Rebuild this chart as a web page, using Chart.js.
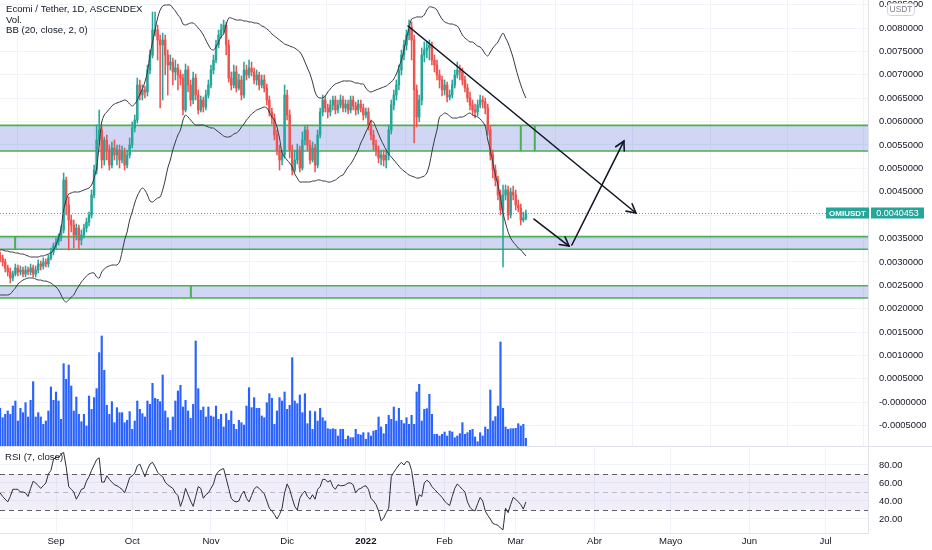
<!DOCTYPE html>
<html><head><meta charset="utf-8">
<script src="https://cdn.jsdelivr.net/npm/chart.js@4.4.1/dist/chart.umd.min.js"></script>
<style>
html,body{margin:0;padding:0;background:#fff;overflow:hidden}
#wrap{position:relative;width:932px;height:550px;background:#fff}
canvas{position:absolute;left:0}
#c1{top:0;width:932px;height:447px}
#c2{top:447px;width:932px;height:103px}
</style></head><body>
<div id="wrap"><canvas id="c1" width="932" height="447"></canvas><canvas id="c2" width="932" height="103"></canvas></div>
<script>
// ---- data (day 0 = 2021-09-01, first candle = 2021-08-10) ----
const FIRST_DAY = -22;
const opens = [0.003148,0.003084,0.002998,0.002870,0.002784,0.002656,0.002742,0.002870,0.002784,0.002827,
0.002742,0.002827,0.002784,0.002870,0.002742,0.002827,0.002955,0.002913,0.002998,0.002955,
0.003084,0.003212,0.003340,0.003426,0.003511,0.003682,0.004751,0.004217,0.003896,0.003789,
0.003575,0.003725,0.003469,0.003575,0.003725,0.003853,0.004003,0.004431,0.004965,0.005607,
0.005820,0.005179,0.005607,0.005393,0.005072,0.005436,0.005286,0.005393,0.005179,0.005350,
0.005072,0.005286,0.005500,0.005863,0.006034,0.006783,0.006569,0.006676,0.006633,0.007103,
0.007424,0.007959,0.007959,0.007745,0.007638,0.007745,0.007424,0.007210,0.007274,0.007061,
0.007146,0.006996,0.006932,0.006248,0.007103,0.006783,0.006462,0.006932,0.006569,0.006248,
0.006462,0.006312,0.006569,0.006783,0.007103,0.007317,0.007638,0.007852,0.007959,0.008065,
0.007638,0.006932,0.006783,0.007061,0.006718,0.006890,0.006569,0.007103,0.006996,0.007146,
0.007061,0.006890,0.006996,0.006783,0.006890,0.006718,0.006462,0.006205,0.006077,0.005714,
0.005393,0.005179,0.005286,0.006569,0.006141,0.005393,0.004965,0.005179,0.005393,0.005008,
0.005607,0.005820,0.005500,0.005179,0.005436,0.005072,0.005714,0.006205,0.006462,0.006291,
0.006205,0.006355,0.006462,0.006248,0.006355,0.006462,0.006291,0.006376,0.006248,0.006462,
0.006334,0.006248,0.006376,0.006291,0.006141,0.006205,0.005927,0.005714,0.005500,0.005393,
0.005222,0.005286,0.005179,0.005286,0.005820,0.006355,0.006569,0.006783,0.007103,0.007424,
0.007638,0.007852,0.008023,0.007745,0.006676,0.006098,0.006462,0.007424,0.007531,0.007574,
0.007638,0.007317,0.007210,0.006996,0.006890,0.006676,0.006783,0.006526,0.006569,0.006783,
0.006996,0.007103,0.007061,0.006890,0.006718,0.006505,0.006355,0.006248,0.006205,0.006355,
0.006462,0.006419,0.006291,0.005820,0.005286,0.004965,0.004751,0.004431,0.004110,0.004431,
0.004538,0.004003,0.004495,0.004431,0.004217,0.004153,0.003896,0.003939];
const highs = [0.003212,0.003148,0.003062,0.002934,0.002870,0.002806,0.002955,0.002934,0.002913,0.002891,
0.002913,0.002891,0.002955,0.002934,0.002913,0.003041,0.003020,0.003084,0.003062,0.003148,
0.003298,0.003404,0.003511,0.003597,0.003768,0.004901,0.004816,0.004388,0.004003,0.003896,
0.003811,0.003789,0.003682,0.003811,0.003939,0.004067,0.004538,0.005072,0.005927,0.006248,
0.005885,0.005671,0.005714,0.005500,0.005564,0.005607,0.005500,0.005500,0.005478,0.005436,
0.005393,0.005649,0.005992,0.006141,0.006932,0.006890,0.006783,0.006761,0.007210,0.007531,
0.008343,0.008343,0.008065,0.007852,0.007894,0.007852,0.007531,0.007424,0.007360,0.007317,
0.007232,0.007103,0.007018,0.007232,0.007189,0.006890,0.007061,0.007018,0.006676,0.006547,
0.006526,0.006676,0.006890,0.007210,0.007424,0.007745,0.007959,0.008087,0.008172,0.008130,
0.007745,0.007061,0.007210,0.007189,0.007018,0.006975,0.007274,0.007210,0.007317,0.007274,
0.007146,0.007103,0.007061,0.006996,0.006996,0.006804,0.006547,0.006291,0.006163,0.005820,
0.005500,0.005393,0.006783,0.006676,0.006248,0.005500,0.005393,0.005521,0.005478,0.005778,
0.005906,0.005927,0.005607,0.005564,0.005521,0.005820,0.006291,0.006569,0.006547,0.006376,
0.006462,0.006547,0.006547,0.006462,0.006569,0.006547,0.006462,0.006462,0.006547,0.006547,
0.006419,0.006462,0.006462,0.006376,0.006291,0.006291,0.006034,0.005820,0.005607,0.005478,
0.005393,0.005393,0.005393,0.005927,0.006462,0.006676,0.006890,0.007210,0.007531,0.007745,
0.007959,0.008172,0.008130,0.007852,0.006783,0.006569,0.007574,0.007702,0.007702,0.007745,
0.007702,0.007424,0.007317,0.007103,0.006975,0.006890,0.006847,0.006676,0.006890,0.007103,
0.007274,0.007210,0.007146,0.006975,0.006804,0.006633,0.006462,0.006376,0.006462,0.006569,
0.006547,0.006505,0.006376,0.005906,0.005393,0.005072,0.004837,0.004538,0.004645,0.004645,
0.004623,0.004580,0.004623,0.004538,0.004324,0.004238,0.004067,0.004110];
const lows = [0.002998,0.002913,0.002784,0.002699,0.002549,0.002592,0.002699,0.002699,0.002720,0.002678,
0.002678,0.002720,0.002720,0.002678,0.002678,0.002763,0.002827,0.002849,0.002891,0.002891,
0.003041,0.003148,0.003276,0.003362,0.003447,0.003618,0.004003,0.003255,0.003640,0.003298,
0.003469,0.003276,0.003362,0.003511,0.003640,0.003768,0.003939,0.004367,0.004880,0.005500,
0.005008,0.005072,0.005179,0.004965,0.005008,0.005179,0.005072,0.005008,0.005115,0.004965,
0.005008,0.005222,0.005436,0.005778,0.005970,0.006462,0.006462,0.006505,0.006547,0.007018,
0.007360,0.007830,0.007317,0.006291,0.006462,0.006996,0.006569,0.007103,0.006783,0.006890,
0.006676,0.006783,0.006141,0.006205,0.006633,0.006334,0.006376,0.006462,0.006163,0.006205,
0.006205,0.006248,0.006505,0.006718,0.007018,0.007253,0.007574,0.007788,0.007894,0.007424,
0.006847,0.006676,0.006718,0.006633,0.006676,0.006462,0.006505,0.006890,0.006932,0.006975,
0.006804,0.006783,0.006676,0.006718,0.006633,0.006355,0.006120,0.005949,0.005607,0.005286,
0.004965,0.005072,0.005222,0.006034,0.005222,0.004858,0.004923,0.005094,0.004923,0.004965,
0.005500,0.005393,0.005094,0.005136,0.004923,0.005008,0.005649,0.006120,0.006205,0.006077,
0.006120,0.006248,0.006163,0.006184,0.006291,0.006205,0.006205,0.006163,0.006184,0.006248,
0.006141,0.006163,0.006205,0.006034,0.006077,0.005820,0.005607,0.005393,0.005265,0.005115,
0.005072,0.005051,0.005008,0.005179,0.005735,0.006248,0.006462,0.006676,0.006996,0.007317,
0.007531,0.007745,0.007317,0.005543,0.005885,0.005992,0.006355,0.007274,0.007360,0.007317,
0.007210,0.007061,0.006890,0.006718,0.006547,0.006569,0.006419,0.006462,0.006505,0.006718,
0.006932,0.006890,0.006783,0.006633,0.006419,0.006248,0.006141,0.006077,0.006120,0.006291,
0.006291,0.006163,0.005714,0.005179,0.004794,0.004623,0.004324,0.004003,0.002891,0.004324,
0.003896,0.003939,0.004324,0.004110,0.004067,0.003789,0.003853,0.003896];
const closes = [0.003084,0.002998,0.002870,0.002784,0.002656,0.002742,0.002870,0.002784,0.002827,0.002742,
0.002827,0.002784,0.002870,0.002742,0.002827,0.002955,0.002913,0.002998,0.002955,0.003084,
0.003212,0.003340,0.003426,0.003511,0.003682,0.004751,0.004217,0.003896,0.003789,0.003575,
0.003725,0.003469,0.003575,0.003725,0.003853,0.004003,0.004431,0.004965,0.005607,0.005820,
0.005179,0.005607,0.005393,0.005072,0.005436,0.005286,0.005393,0.005179,0.005350,0.005072,
0.005286,0.005500,0.005863,0.006034,0.006783,0.006569,0.006676,0.006633,0.007103,0.007424,
0.007959,0.007959,0.007745,0.007638,0.007745,0.007424,0.007210,0.007274,0.007061,0.007146,
0.006996,0.006932,0.006248,0.007103,0.006783,0.006462,0.006932,0.006569,0.006248,0.006462,
0.006312,0.006569,0.006783,0.007103,0.007317,0.007638,0.007852,0.007959,0.008065,0.007638,
0.006932,0.006783,0.007061,0.006718,0.006890,0.006569,0.007103,0.006996,0.007146,0.007061,
0.006890,0.006996,0.006783,0.006890,0.006718,0.006462,0.006205,0.006077,0.005714,0.005393,
0.005179,0.005286,0.006569,0.006141,0.005393,0.004965,0.005179,0.005393,0.005008,0.005607,
0.005820,0.005500,0.005179,0.005436,0.005072,0.005714,0.006205,0.006462,0.006291,0.006205,
0.006355,0.006462,0.006248,0.006355,0.006462,0.006291,0.006376,0.006248,0.006462,0.006334,
0.006248,0.006376,0.006291,0.006141,0.006205,0.005927,0.005714,0.005500,0.005393,0.005222,
0.005286,0.005179,0.005286,0.005820,0.006355,0.006569,0.006783,0.007103,0.007424,0.007638,
0.007852,0.008023,0.007745,0.006676,0.006098,0.006462,0.007424,0.007531,0.007574,0.007638,
0.007317,0.007210,0.006996,0.006890,0.006676,0.006783,0.006526,0.006569,0.006783,0.006996,
0.007103,0.007061,0.006890,0.006718,0.006505,0.006355,0.006248,0.006205,0.006355,0.006462,
0.006419,0.006291,0.005820,0.005286,0.004965,0.004751,0.004431,0.004110,0.004431,0.004538,
0.004003,0.004495,0.004431,0.004217,0.004153,0.003896,0.003939,0.0040453];
const volumes = [116,88,98,108,98,123,138,78,116,103,
133,90,140,196,90,103,90,68,78,108,
180,140,165,138,83,250,203,246,183,108,
150,98,76,98,63,153,113,148,175,283,
333,230,125,98,136,73,118,103,103,73,
80,106,53,78,138,113,100,90,138,128,
191,146,143,136,216,108,88,50,90,138,
168,185,120,140,108,86,128,318,175,110,
120,90,120,93,90,123,83,98,60,100,
80,108,68,53,80,73,66,123,178,118,
148,116,116,93,88,133,160,146,68,108,
148,138,165,113,125,268,138,130,156,103,
160,70,108,53,106,78,116,88,78,55,
53,55,53,33,53,53,23,33,28,28,
53,38,36,43,23,43,33,48,50,90,
60,40,68,95,83,120,78,116,80,70,
88,68,95,68,165,188,78,113,115,158,
98,38,38,33,38,45,33,48,45,28,
33,40,73,38,43,50,53,30,16,43,
33,60,53,171,78,91,123,315,116,60,
53,55,55,56,70,63,68,26];
const bbUpper = [0.003255,0.003255,0.003233,0.003233,0.003212,0.003212,0.003191,0.003191,0.003169,0.003169,
0.003148,0.003127,0.003105,0.003105,0.003105,0.003105,0.003127,0.003127,0.003148,0.003169,
0.003191,0.003255,0.003362,0.003511,0.003725,0.004110,0.004324,0.004452,0.004474,0.004495,
0.004495,0.004495,0.004516,0.004538,0.004559,0.004580,0.004645,0.004794,0.005008,0.005500,
0.005992,0.006141,0.006205,0.006269,0.006334,0.006376,0.006398,0.006419,0.006440,0.006462,
0.006440,0.006376,0.006334,0.006376,0.006462,0.006590,0.006697,0.006847,0.007061,0.007424,
0.007702,0.007959,0.008215,0.008386,0.008472,0.008493,0.008493,0.008493,0.008429,0.008365,
0.008279,0.008215,0.008087,0.008065,0.008087,0.008108,0.008108,0.008065,0.008001,0.007937,
0.007852,0.007745,0.007638,0.007552,0.007531,0.007595,0.007702,0.007809,0.007873,0.008065,
0.008215,0.008215,0.008194,0.008172,0.008172,0.008172,0.008151,0.008151,0.008130,0.008130,
0.008108,0.008108,0.008087,0.008044,0.008023,0.007980,0.007937,0.007873,0.007830,0.007788,
0.007745,0.007702,0.007659,0.007638,0.007616,0.007595,0.007574,0.007531,0.007488,0.007403,
0.007274,0.007146,0.007018,0.006847,0.006633,0.006526,0.006505,0.006505,0.006547,0.006633,
0.006697,0.006761,0.006804,0.006825,0.006847,0.006868,0.006868,0.006868,0.006868,0.006847,
0.006825,0.006825,0.006804,0.006804,0.006718,0.006654,0.006633,0.006654,0.006676,0.006697,
0.006718,0.006740,0.006761,0.006804,0.006847,0.006911,0.007018,0.007167,0.007317,0.007531,
0.007788,0.008001,0.008194,0.008215,0.008237,0.008237,0.008237,0.008279,0.008386,0.008450,
0.008450,0.008429,0.008386,0.008279,0.008194,0.008130,0.008108,0.008087,0.008087,0.008065,
0.008044,0.007959,0.007852,0.007788,0.007745,0.007702,0.007702,0.007659,0.007616,0.007595,
0.007531,0.007445,0.007403,0.007488,0.007574,0.007638,0.007702,0.007809,0.007894,0.007788,
0.007681,0.007531,0.007360,0.007146,0.006954,0.006783,0.006633,0.006505];
const bbLower = [0.002293,0.002293,0.002293,0.002293,0.002314,0.002378,0.002442,0.002528,0.002571,0.002613,
0.002635,0.002656,0.002656,0.002656,0.002635,0.002613,0.002613,0.002592,0.002592,0.002571,
0.002549,0.002506,0.002464,0.002400,0.002293,0.002186,0.002143,0.002186,0.002250,0.002293,
0.002400,0.002485,0.002571,0.002635,0.002699,0.002742,0.002763,0.002763,0.002678,0.002656,
0.002784,0.002849,0.002891,0.002913,0.002934,0.002934,0.002934,0.002998,0.003212,0.003469,
0.003640,0.003896,0.004067,0.004260,0.004409,0.004516,0.004580,0.004538,0.004431,0.004303,
0.004281,0.004324,0.004367,0.004388,0.004538,0.004751,0.005008,0.005179,0.005393,0.005564,
0.005714,0.005820,0.006034,0.006141,0.006098,0.006034,0.005970,0.005927,0.005927,0.005927,
0.005927,0.005906,0.005885,0.005863,0.005863,0.005820,0.005778,0.005735,0.005692,0.005671,
0.005671,0.005692,0.005735,0.005756,0.005799,0.005885,0.005949,0.006034,0.006098,0.006163,
0.006205,0.006248,0.006269,0.006291,0.006312,0.006291,0.006205,0.006098,0.006034,0.005885,
0.005649,0.005329,0.005243,0.005179,0.005115,0.005029,0.004880,0.004794,0.004709,0.004709,
0.004709,0.004709,0.004709,0.004730,0.004730,0.004751,0.004751,0.004730,0.004730,0.004709,
0.004709,0.004730,0.004751,0.004794,0.004837,0.004858,0.004944,0.005029,0.005094,0.005179,
0.005286,0.005393,0.005543,0.005649,0.005778,0.005885,0.006013,0.005992,0.005863,0.005735,
0.005607,0.005500,0.005393,0.005307,0.005243,0.005179,0.005115,0.005051,0.004987,0.004944,
0.004901,0.004858,0.004837,0.004816,0.004794,0.004794,0.004816,0.004837,0.004901,0.005072,
0.005350,0.005607,0.005820,0.006098,0.006141,0.006184,0.006163,0.006120,0.006077,0.006077,
0.006077,0.006098,0.006098,0.006120,0.006163,0.006184,0.006141,0.006120,0.006098,0.006056,
0.005992,0.005906,0.005607,0.005393,0.005115,0.004858,0.004645,0.004367,0.004046,0.003832,
0.003640,0.003511,0.003426,0.003362,0.003298,0.003255,0.003191,0.003127];
const rsi7 = [49,45,42,39,45,53,53,53,50,50,
49,45,54,62,60,57,54,57,60,70,
74,86,89,88,92,94,78,56,53,50,
42,47,53,54,62,67,74,80,86,88,
61,61,68,64,61,58,57,55,53,49,
57,66,68,71,79,81,74,67,75,81,
83,78,72,69,67,61,58,56,54,49,
46,34,42,54,47,40,34,45,56,54,
43,47,49,54,59,69,73,75,76,65,
54,43,40,39,40,47,51,43,39,46,
53,56,54,51,48,40,32,29,25,20,
25,32,49,59,53,43,34,30,43,48,
51,45,42,47,42,53,56,64,64,61,
63,56,53,58,57,57,58,60,60,58,
49,53,54,56,57,53,43,40,36,29,
18,21,27,32,67,72,76,80,83,80,
84,83,74,55,35,47,45,60,63,61,
56,53,50,47,44,40,37,35,45,54,
59,56,53,50,39,33,30,29,37,44,
40,29,24,20,15,14,13,10,8,32,
27,36,44,42,39,36,31,39];
const monthDays = [0,30,61,91,122,153,181,212,242,273,303];
const monthLabels = ['Sep','Oct','Nov','Dic','2022','Feb','Mar','Abr','Mayo','Jun','Jul'];
const priceTicks = [-0.0005,0,0.0005,0.001,0.0015,0.002,0.0025,0.003,0.0035,0.004,0.0045,0.005,0.0055,0.006,0.0065,0.007,0.0075,0.008,0.0085];
const rsiTicks = [20,40,60,80];
const rsiLevels = [70,50,30];
const zoneTops = [0.00592,0.00354,0.00249];
const zoneBottoms = [0.00537,0.00327,0.00223];
const zoneEdgeDays = [[183,188.5],[-16.1],[53.1]];
const drawnStartDay = [138.6,188.2,203.1];
const drawnStartPrice = [0.008044,0.003917,0.003362];
const drawnEndDay = [228.3,202.0,223.6];
const drawnEndPrice = [0.004046,0.003340,0.005585];
const lastPrice = 0.0040453;
const symbolName = 'OMIUSDT';

// ---- style ----
const FONT = "'Liberation Sans', Arial, sans-serif";
const TEXT = '#131722';
const GRID = '#f0f3fa';
const BORDER = '#e0e3eb';
const UP = '#26a69a', DOWN = '#ef5350';
const X_MIN = -22.05, X_MAX = 319.7;
const PRICE_MAX = 0.0086, PRICE_MIN = -0.000957;
const VOL_MAX = 1341;
const AXIS_W = 64;

const days = closes.map((_, i) => FIRST_DAY + i);
const candleColor = closes.map((c, i) => c >= opens[i] ? UP : DOWN);

function fmtPrice(v){ return Math.abs(v) < 1e-12 ? '-0.0000000' : v.toFixed(7); }
function monthLabel(v){ const k = monthDays.indexOf(v); return k >= 0 ? monthLabels[k] : ''; }
function noPad(s){ s.paddingTop = 0; s.paddingBottom = 0; s.paddingLeft = 0; s.paddingRight = 0; }

function arrowHead(ctx, x1, y1, x2, y2, len){
  const a = Math.atan2(y2 - y1, x2 - x1);
  ctx.beginPath();
  ctx.moveTo(x2 - len*Math.cos(a - 0.5), y2 - len*Math.sin(a - 0.5));
  ctx.lineTo(x2, y2);
  ctx.lineTo(x2 - len*Math.cos(a + 0.5), y2 - len*Math.sin(a + 0.5));
  ctx.stroke();
}

const pricePanePlugin = {
  id: 'pricePane',
  beforeDatasetsDraw(chart){
    const {ctx, chartArea: a, scales: {x, y}} = chart;
    ctx.save();
    ctx.beginPath(); ctx.rect(a.left, a.top, a.width, a.height); ctx.clip();
    for (let i = 0; i < zoneTops.length; i++){
      const yt = y.getPixelForValue(zoneTops[i]), yb = y.getPixelForValue(zoneBottoms[i]);
      ctx.fillStyle = 'rgba(100,120,220,0.30)';
      ctx.fillRect(a.left, yt, a.width, yb - yt);
      ctx.strokeStyle = '#4caf50'; ctx.lineWidth = 1.6;
      ctx.beginPath(); ctx.moveTo(a.left, yt); ctx.lineTo(a.right, yt);
      ctx.moveTo(a.left, yb); ctx.lineTo(a.right, yb); ctx.stroke();
      zoneEdgeDays[i].forEach(d => {
        const xe = x.getPixelForValue(d);
        ctx.lineWidth = 2;
        ctx.beginPath(); ctx.moveTo(xe, yt); ctx.lineTo(xe, yb); ctx.stroke();
      });
    }
    ctx.restore();
  },
  afterDatasetsDraw(chart){
    const {ctx, chartArea: a, scales: {x, y}} = chart;
    ctx.save();
    const yp = y.getPixelForValue(lastPrice);
    ctx.strokeStyle = 'rgba(38,166,154,0.9)'; ctx.lineWidth = 1; ctx.setLineDash([1,2]);
    ctx.beginPath(); ctx.moveTo(a.left, Math.round(yp)+0.5); ctx.lineTo(826, Math.round(yp)+0.5); ctx.stroke();
    ctx.setLineDash([]);
    ctx.strokeStyle = '#131722'; ctx.lineWidth = 1.6; ctx.lineCap = 'round';
    for (let i = 0; i < drawnStartDay.length; i++){
      const x1 = x.getPixelForValue(drawnStartDay[i]), y1 = y.getPixelForValue(drawnStartPrice[i]);
      const x2 = x.getPixelForValue(drawnEndDay[i]), y2 = y.getPixelForValue(drawnEndPrice[i]);
      ctx.beginPath(); ctx.moveTo(x1, y1); ctx.lineTo(x2, y2); ctx.stroke();
      arrowHead(ctx, x1, y1, x2, y2, 10);
    }
    ctx.restore();
  },
  afterDraw(chart){
    const {ctx, scales: {y}} = chart;
    ctx.save();
    ctx.fillStyle = TEXT; ctx.textBaseline = 'middle'; ctx.textAlign = 'left';
    ctx.font = '500 9.6px ' + FONT;
    ctx.fillText('Ecomi / Tether, 1D, ASCENDEX', 6, 9.5);
    ctx.font = '9.6px ' + FONT;
    ctx.fillText('Vol.', 6, 20);
    ctx.fillText('BB (20, close, 2, 0)', 6, 30);
    const yp = Math.round(y.getPixelForValue(lastPrice));
    ctx.fillStyle = UP;
    ctx.fillRect(826, yp - 5.5, 43, 11);
    ctx.fillRect(871, yp - 5.5, 53, 11);
    ctx.fillStyle = '#ffffff'; ctx.font = 'bold 8px ' + FONT; ctx.textAlign = 'center';
    ctx.fillText(symbolName, 847.5, yp + 0.5);
    ctx.font = '9px ' + FONT;
    ctx.fillText(lastPrice.toFixed(7), 897.5, yp + 0.5);
    ctx.fillStyle = '#ffffff'; ctx.strokeStyle = '#d1d4dc'; ctx.lineWidth = 1;
    ctx.beginPath();
    if (ctx.roundRect) ctx.roundRect(887.5, 3.5, 27, 12, 3); else ctx.rect(887.5, 3.5, 27, 12);
    ctx.fill(); ctx.stroke();
    ctx.fillStyle = '#787b86'; ctx.font = '8.4px ' + FONT;
    ctx.fillText('USDT', 901, 10);
    ctx.strokeStyle = BORDER; ctx.lineWidth = 1;
    ctx.beginPath(); ctx.moveTo(0, 446.5); ctx.lineTo(932, 446.5); ctx.stroke();
    ctx.restore();
  }
};

const rsiPanePlugin = {
  id: 'rsiPane',
  beforeDatasetsDraw(chart){
    const {ctx, chartArea: a, scales: {y}} = chart;
    ctx.save();
    const y70 = y.getPixelForValue(rsiLevels[0]), y50 = y.getPixelForValue(rsiLevels[1]), y30 = y.getPixelForValue(rsiLevels[2]);
    ctx.fillStyle = 'rgba(126,87,194,0.10)';
    ctx.fillRect(a.left, y70, a.width, y30 - y70);
    ctx.lineWidth = 1; ctx.setLineDash([5,4]);
    ctx.strokeStyle = '#5d606b';
    ctx.beginPath(); ctx.moveTo(a.left, Math.round(y70)+0.5); ctx.lineTo(a.right, Math.round(y70)+0.5);
    ctx.moveTo(a.left, Math.round(y30)+0.5); ctx.lineTo(a.right, Math.round(y30)+0.5); ctx.stroke();
    ctx.strokeStyle = 'rgba(120,123,134,0.45)';
    ctx.beginPath(); ctx.moveTo(a.left, Math.round(y50)+0.5); ctx.lineTo(a.right, Math.round(y50)+0.5); ctx.stroke();
    ctx.restore();
  },
  afterDraw(chart){
    const {ctx} = chart;
    ctx.save();
    ctx.fillStyle = TEXT; ctx.font = '9.6px ' + FONT; ctx.textBaseline = 'middle'; ctx.textAlign = 'left';
    ctx.fillText('RSI (7, close)', 5, 10.5);
    ctx.restore();
  }
};

const xCommon = {
  type: 'linear', min: X_MIN, max: X_MAX, offset: false,
  grid: { color: GRID, drawTicks: false, lineWidth: 1 },
  afterBuildTicks: s => { s.ticks = monthDays.map(v => ({ value: v })); }
};

new Chart(document.getElementById('c1'), {
  type: 'bar',
  data: {
    datasets: [
      { type: 'line', label: 'BB upper', data: days.map((d, i) => ({ x: d, y: bbUpper[i] })), borderColor: '#363a45', borderWidth: 1, pointRadius: 0, tension: 0.3, order: 1, yAxisID: 'y' },
      { type: 'line', label: 'BB lower', data: days.map((d, i) => ({ x: d, y: bbLower[i] })), borderColor: '#363a45', borderWidth: 1, pointRadius: 0, tension: 0.3, order: 1, yAxisID: 'y' },
      { label: 'body', data: days.map((d, i) => ({ x: d, y: [opens[i], closes[i]] })), backgroundColor: candleColor, barThickness: 1.8, minBarLength: 1, grouped: false, order: 2, yAxisID: 'y' },
      { label: 'wick', data: days.map((d, i) => ({ x: d, y: [lows[i], highs[i]] })), backgroundColor: candleColor, barThickness: 0.9, grouped: false, order: 3, yAxisID: 'y' },
      { label: 'volume', data: days.map((d, i) => ({ x: d, y: volumes[i] })), backgroundColor: '#2962ff', barThickness: 1.5, grouped: false, order: 4, yAxisID: 'yVol' }
    ]
  },
  options: {
    responsive: false, animation: false, events: [],
    layout: { padding: 0 },
    plugins: { legend: { display: false }, tooltip: { enabled: false } },
    scales: {
      x: Object.assign({}, xCommon, { ticks: { display: false }, border: { display: false }, afterFit: s => { s.height = 0; noPad(s); } }),
      y: {
        position: 'right', min: PRICE_MIN, max: PRICE_MAX,
        afterBuildTicks: s => { s.ticks = priceTicks.map(v => ({ value: v })); },
        afterFit: s => { s.width = AXIS_W; noPad(s); },
        grid: { color: GRID, drawTicks: false },
        border: { color: BORDER },
        ticks: { autoSkip: false, padding: 11, color: TEXT, font: { family: FONT, size: 9.4 }, callback: v => fmtPrice(v) }
      },
      yVol: { display: false, min: 0, max: VOL_MAX, afterFit: s => { noPad(s); } }
    }
  },
  plugins: [pricePanePlugin]
});

new Chart(document.getElementById('c2'), {
  type: 'line',
  data: {
    datasets: [
      { label: 'RSI', data: days.map((d, i) => ({ x: d, y: rsi7[i] })), borderColor: '#2a2e39', borderWidth: 1, pointRadius: 0, tension: 0 }
    ]
  },
  options: {
    responsive: false, animation: false, events: [],
    layout: { padding: 0 },
    plugins: { legend: { display: false }, tooltip: { enabled: false } },
    scales: {
      x: Object.assign({}, xCommon, {
        border: { color: BORDER },
        afterFit: s => { s.height = 17; noPad(s); },
        ticks: { autoSkip: false, maxRotation: 0, padding: 3, color: TEXT,
          font: ctx => ({ family: FONT, size: 9.6, weight: (ctx.tick && monthLabel(ctx.tick.value) === '2022') ? 'bold' : 'normal' }),
          callback: v => monthLabel(v) }
      }),
      y: {
        position: 'right', min: 4.44, max: 100,
        afterBuildTicks: s => { s.ticks = rsiTicks.map(v => ({ value: v })); },
        afterFit: s => { s.width = AXIS_W; noPad(s); },
        grid: { color: GRID, drawTicks: false },
        border: { color: BORDER },
        ticks: { autoSkip: false, padding: 11, color: TEXT, font: { family: FONT, size: 9.4 }, callback: v => v.toFixed(2) }
      }
    }
  },
  plugins: [rsiPanePlugin]
});
</script>
</body></html>
